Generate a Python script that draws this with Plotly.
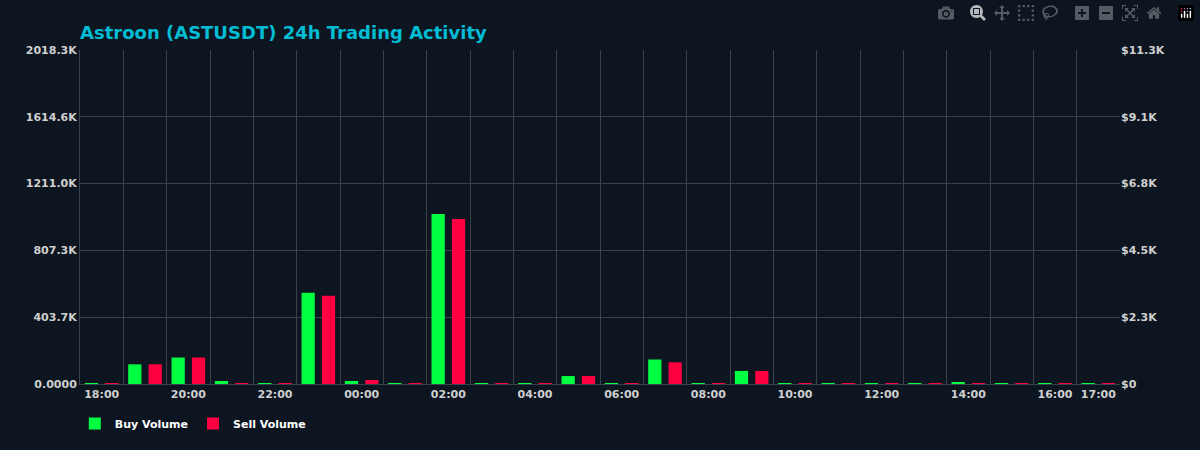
import plotly.graph_objects as go

hours = ["18:00","19:00","20:00","21:00","22:00","23:00","00:00","01:00","02:00","03:00","04:00","05:00",
         "06:00","07:00","08:00","09:00","10:00","11:00","12:00","13:00","14:00","15:00","16:00","17:00"]
buy = [3,119,160,18,3,552,18,3,1027,3,3,48,3,148,3,79,3,3,3,3,12,3,3,3]
sell = [3,119,160,3,3,534,24,3,997,3,3,48,3,131,3,79,6,3,3,3,3,3,3,3]
buy = [v*1000 for v in buy]
sell = [v*1000 for v in sell]
tick_labels = ["18:00","20:00","22:00","00:00","02:00","04:00","06:00","08:00","10:00","12:00","14:00","16:00","17:00"]
left_ticks = ["<b>0.0000</b>","<b>403.7K</b>","<b>807.3K</b>","<b>1211.0K</b>","<b>1614.6K</b>","<b>2018.3K</b>"]
right_ticks = ["<b>$0</b>","<b>$2.3K</b>","<b>$4.5K</b>","<b>$6.8K</b>","<b>$9.1K</b>","<b>$11.3K</b>"]
ymax = 2018.3e3

xs = list(range(len(hours)))
tickpos = [hours.index(t) for t in tick_labels]

fig = go.Figure()
fig.add_bar(x=xs, y=buy, name="<b>Buy Volume</b>", marker_color="#00ff41", marker_line_width=0)
fig.add_bar(x=xs, y=sell, name="<b>Sell Volume</b>", marker_color="#ff0040", marker_line_width=0)
fig.add_scatter(x=[0], y=[0], yaxis="y2", showlegend=False, mode="markers", marker_opacity=0, hoverinfo="skip")

font = dict(family="DejaVu Sans", color="#d0d0d0", size=11)
fig.update_layout(
    width=1200, height=450, paper_bgcolor="#0d1520", plot_bgcolor="#0d1520",
    margin=dict(l=80, r=80, t=50, b=60),
    title=dict(text="<b>Astroon (ASTUSDT) 24h Trading Activity</b>", x=0.0667, xanchor="left", y=0.942,
               font=dict(family="DejaVu Sans", size=18, color="#00bcd4")),
    barmode="group", bargap=0.06, bargroupgap=0.35,
    legend=dict(orientation="h", x=-0.005, y=-0.075, xanchor="left", yanchor="top",
                font=dict(family="DejaVu Sans", size=11, color="white"), itemsizing="constant"),
    xaxis=dict(range=[-0.5, 23.5], tickvals=tickpos, ticktext=["<b>%s</b>" % t for t in tick_labels], showgrid=False,
               tickfont=dict(family="DejaVu Sans", size=11, color="#d0d0d0"),
               minor=dict(tick0=0.5, dtick=1, showgrid=True, gridcolor="#3a424c", gridwidth=1),
               showline=True, linecolor="#3a424c", zeroline=False),
    yaxis=dict(range=[0, ymax], tickvals=[ymax*i/5 for i in range(6)], ticktext=left_ticks,
               gridcolor="#3a424c", zeroline=False, tickfont=font, showline=True, linecolor="#3a424c"),
    yaxis2=dict(range=[0, ymax], overlaying="y", side="right", tickvals=[ymax*i/5 for i in range(6)],
                ticktext=right_ticks, showgrid=False, zeroline=False, tickfont=font),
)
fig.write_html("out.html")
with open("out.html") as f:
    html = f.read()
html = html.replace("<body>", "<body style=\"margin:0;background:#0d1520\">", 1)
with open("out.html", "w") as f:
    f.write(html)
